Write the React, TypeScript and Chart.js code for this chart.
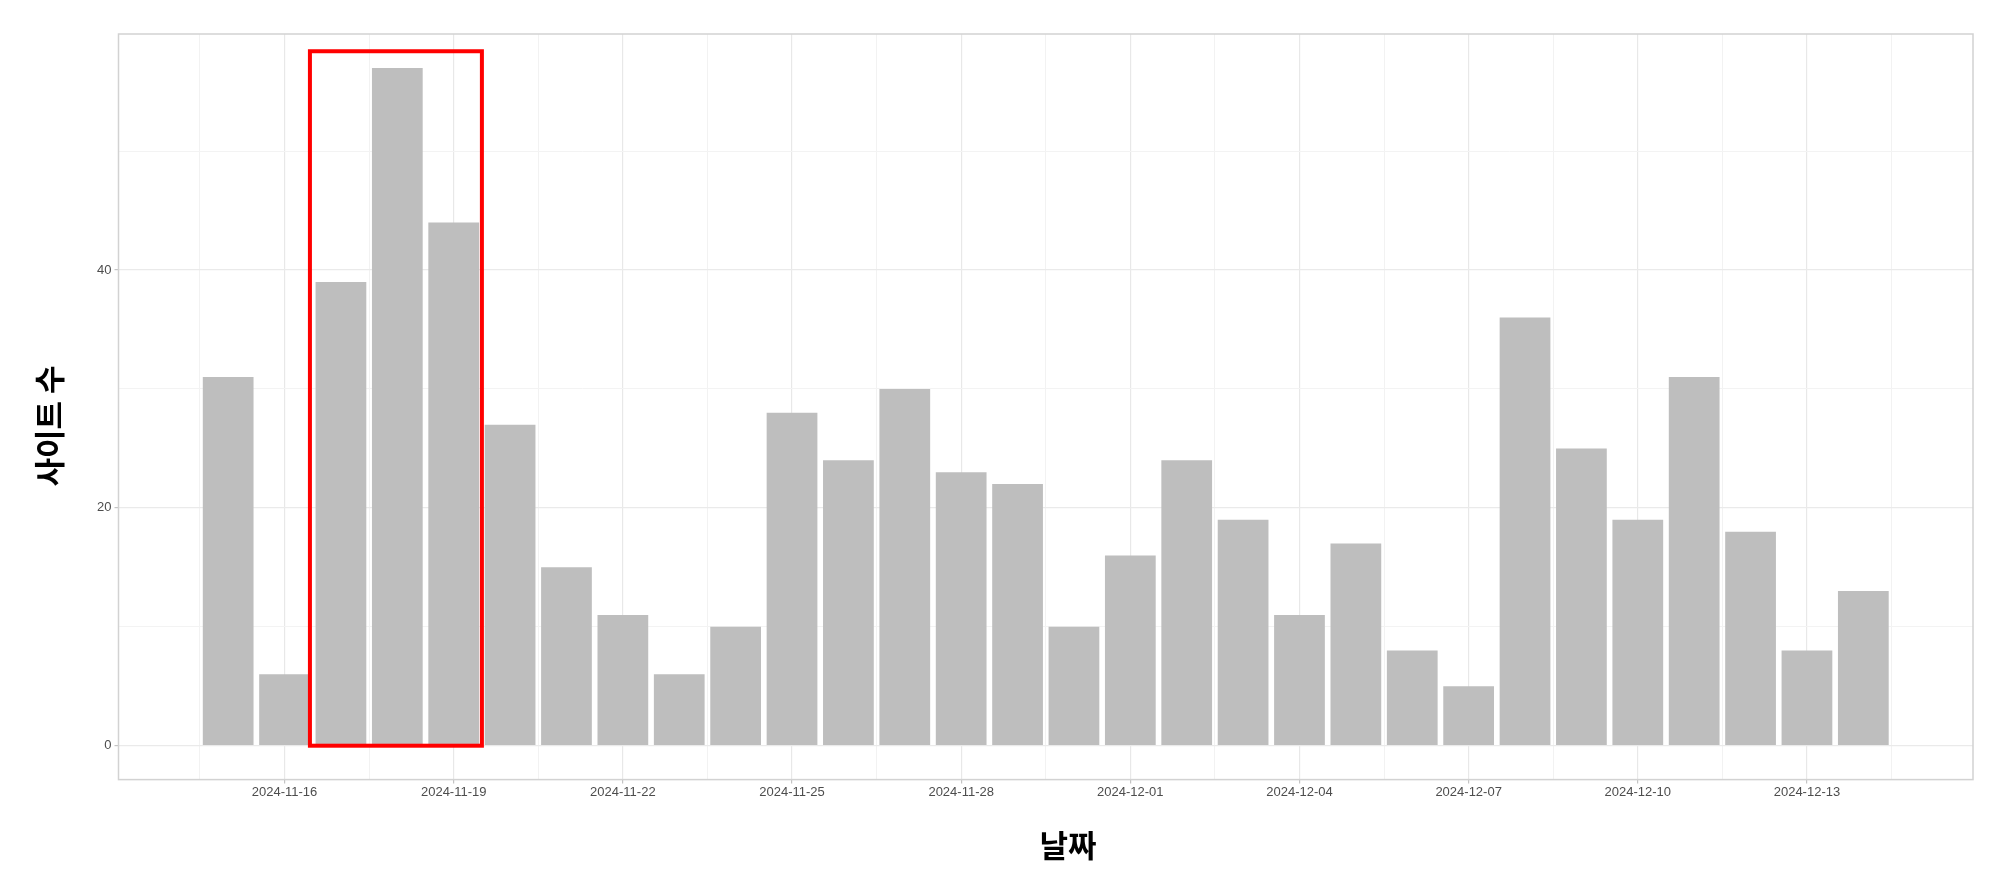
import React, { useEffect, useRef } from 'react';
import { Chart, registerables } from 'chart.js';

Chart.register(...registerables);

// ---- data ----
const dates: string[] = [
  '2024-11-15', '2024-11-16', '2024-11-17', '2024-11-18', '2024-11-19', '2024-11-20',
  '2024-11-21', '2024-11-22', '2024-11-23', '2024-11-24', '2024-11-25', '2024-11-26',
  '2024-11-27', '2024-11-28', '2024-11-29', '2024-11-30', '2024-12-01', '2024-12-02',
  '2024-12-03', '2024-12-04', '2024-12-05', '2024-12-06', '2024-12-07', '2024-12-08',
  '2024-12-09', '2024-12-10', '2024-12-11', '2024-12-12', '2024-12-13', '2024-12-14',
];
const siteCounts: number[] = [
  31, 6, 39, 57, 44, 27, 15, 11, 6, 10, 28, 24, 30, 23, 22,
  10, 16, 24, 19, 11, 17, 8, 5, 36, 25, 19, 31, 18, 8, 13,
];
const xTickLabels: string[] = [
  '2024-11-16', '2024-11-19', '2024-11-22', '2024-11-25', '2024-11-28',
  '2024-12-01', '2024-12-04', '2024-12-07', '2024-12-10', '2024-12-13',
];
const yTickValues: number[] = [0, 20, 40];
const yMinorValues: number[] = [10, 30, 50];
// highlight box (in day offsets from first date, and count units)
const highlightX: number[] = [1.45, 4.5];
const highlightY: number[] = [0, 58.4];

const xTitle = '날짜';
const yTitle = '사이트 수';

export default function App() {
  const ref = useRef<HTMLCanvasElement | null>(null);

  useEffect(() => {
    document.body.style.margin = '0';
    const canvas = ref.current;
    if (!canvas) return;

    const n = dates.length;
    const maxV = Math.max(...siteCounts);
    const xExp = ((n - 1) + 0.9) * 0.05 + 0.45;
    const xMin = -xExp;
    const xMax = (n - 1) + xExp;
    const yMin = -maxV * 0.05;
    const yMax = maxV * 1.05;

    const majorX = xTickLabels.map((l) => dates.indexOf(l));
    const minorX: number[] = [];
    for (let i = 0; i < majorX.length; i++) {
      minorX.push(majorX[i] - 1.5);
    }
    minorX.push(majorX[majorX.length - 1] + 1.5);
    const xGrid = [...majorX, ...minorX].filter((v) => v >= xMin && v <= xMax).sort((a, b) => a - b);
    const yGrid = [...yTickValues, ...yMinorValues].sort((a, b) => a - b);

    const isMajorX = (v: number) => majorX.includes(v);
    const isMajorY = (v: number) => yTickValues.includes(v);

    const overlay = {
      id: 'overlay',
      beforeDatasetsDraw(chart: any) {
        const { ctx, chartArea } = chart;
        ctx.save();
        ctx.strokeStyle = '#D2D2D2';
        ctx.lineWidth = 1.5;
        ctx.strokeRect(chartArea.left, chartArea.top, chartArea.right - chartArea.left, chartArea.bottom - chartArea.top);
        ctx.restore();
      },
      afterDatasetsDraw(chart: any) {
        const { ctx } = chart;
        const xs = chart.scales.x;
        const ys = chart.scales.y;
        const x0 = xs.getPixelForValue(highlightX[0]);
        const x1 = xs.getPixelForValue(highlightX[1]);
        const y0 = ys.getPixelForValue(highlightY[0]);
        const y1 = ys.getPixelForValue(highlightY[1]);
        ctx.save();
        ctx.strokeStyle = '#FF0000';
        ctx.lineWidth = 4;
        ctx.lineJoin = 'miter';
        ctx.strokeRect(x0, y1, x1 - x0, y0 - y1);
        ctx.restore();
      },
      afterDraw(chart: any) {
        const { ctx } = chart;
        ctx.save();
        ctx.fillStyle = '#000000';
        ctx.font = 'bold 31px "Noto Sans CJK KR", "Noto Sans", sans-serif';
        ctx.textAlign = 'center';
        ctx.textBaseline = 'middle';
        ctx.fillText(xTitle, 1068, 845);
        ctx.translate(49, 426);
        ctx.rotate(-Math.PI / 2);
        ctx.font = 'bold 31px "Noto Sans CJK KR", "Noto Sans", sans-serif';
        ctx.fillText(yTitle, 0, 0);
        ctx.restore();
      },
    };

    const chart = new Chart(canvas, {
      type: 'bar',
      data: {
        datasets: [
          {
            data: siteCounts.map((v, i) => ({ x: i, y: v })),
            backgroundColor: '#BEBEBE',
            borderWidth: 0,
            barPercentage: 0.9,
            categoryPercentage: 1,
          },
        ],
      },
      options: {
        responsive: false,
        animation: false,
        layout: { padding: { left: 0, right: 19, top: 34, bottom: 0 } },
        plugins: {
          legend: { display: false },
          tooltip: { enabled: false },
          title: { display: false },
        },
        scales: {
          x: {
            type: 'linear',
            min: xMin,
            max: xMax,
            offset: false,
            afterBuildTicks: (scale: any) => {
              scale.ticks = xGrid.map((v) => ({ value: v }));
            },
            afterFit: (scale: any) => {
              scale.height = 878 - 779.6;
            },
            grid: {
              offset: false,
              drawTicks: true,
              tickLength: 4,
              color: (c: any) => (c.tick && isMajorX(c.tick.value) ? '#E8E8E8' : '#F2F2F2'),
              lineWidth: (c: any) => (c.tick && isMajorX(c.tick.value) ? 1.2 : 1),
              tickColor: (c: any) => (c.tick && isMajorX(c.tick.value) ? '#C4C4C4' : 'rgba(0,0,0,0)'),
            },
            border: { display: false },
            ticks: {
              autoSkip: false,
              maxRotation: 0,
              padding: 1,
              color: '#4D4D4D',
              font: { family: '"Liberation Sans", Arial, sans-serif', size: 13 },
              callback: (value: any) => {
                const v = Number(value);
                return isMajorX(v) ? dates[v] : '';
              },
            },
          },
          y: {
            type: 'linear',
            min: yMin,
            max: yMax,
            afterBuildTicks: (scale: any) => {
              scale.ticks = yGrid.map((v) => ({ value: v }));
            },
            afterFit: (scale: any) => {
              scale.width = 118.5;
            },
            grid: {
              drawTicks: true,
              tickLength: 4,
              color: (c: any) => (c.tick && isMajorY(c.tick.value) ? '#EAEAEA' : '#F3F3F3'),
              lineWidth: (c: any) => (c.tick && isMajorY(c.tick.value) ? 1.2 : 1),
              tickColor: (c: any) => (c.tick && isMajorY(c.tick.value) ? '#C4C4C4' : 'rgba(0,0,0,0)'),
            },
            border: { display: false },
            ticks: {
              autoSkip: false,
              padding: 3,
              color: '#4D4D4D',
              font: { family: '"Liberation Sans", Arial, sans-serif', size: 13 },
              callback: (value: any) => {
                const v = Number(value);
                return isMajorY(v) ? String(v) : '';
              },
            },
          },
        },
      },
      plugins: [overlay],
    } as any);

    return () => {
      chart.destroy();
    };
  }, []);

  return (
    <canvas ref={ref} width={1992} height={878} style={{ display: 'block', width: 1992, height: 878 }} />
  );
}
